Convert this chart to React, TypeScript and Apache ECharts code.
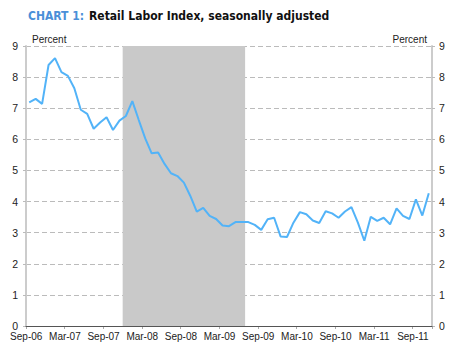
import React, { useEffect, useRef } from "react";
import * as echarts from "echarts";

const categories = [
  "Sep-06", "Oct-06", "Nov-06", "Dec-06",
  "Jan-07", "Feb-07", "Mar-07", "Apr-07", "May-07", "Jun-07", "Jul-07", "Aug-07", "Sep-07", "Oct-07", "Nov-07", "Dec-07",
  "Jan-08", "Feb-08", "Mar-08", "Apr-08", "May-08", "Jun-08", "Jul-08", "Aug-08", "Sep-08", "Oct-08", "Nov-08", "Dec-08",
  "Jan-09", "Feb-09", "Mar-09", "Apr-09", "May-09", "Jun-09", "Jul-09", "Aug-09", "Sep-09", "Oct-09", "Nov-09", "Dec-09",
  "Jan-10", "Feb-10", "Mar-10", "Apr-10", "May-10", "Jun-10", "Jul-10", "Aug-10", "Sep-10", "Oct-10", "Nov-10", "Dec-10",
  "Jan-11", "Feb-11", "Mar-11", "Apr-11", "May-11", "Jun-11", "Jul-11", "Aug-11", "Sep-11", "Oct-11", "Nov-11",
];

const retailLaborIndex = [
  7.19, 7.3, 7.14, 8.39,
  8.61, 8.16, 8.04, 7.64, 6.95, 6.82, 6.34, 6.54, 6.71, 6.3, 6.6, 6.75,
  7.23, 6.62, 6.03, 5.55, 5.58, 5.21, 4.91, 4.82, 4.61, 4.18, 3.68, 3.8,
  3.54, 3.44, 3.23, 3.21, 3.34, 3.34, 3.34, 3.25, 3.09, 3.43, 3.48, 2.88,
  2.86, 3.32, 3.66, 3.59, 3.39, 3.31, 3.69, 3.62, 3.48, 3.68, 3.82, 3.32,
  2.74, 3.51, 3.38, 3.48, 3.27, 3.78, 3.54, 3.44, 4.07, 3.55, 4.27,
];

const recessionStart = "Dec-07";
const recessionEnd = "Jun-09";

const yMin = 0;
const yMax = 9;
const yInterval = 1;

export default function App() {
  const ref = useRef<HTMLDivElement>(null);

  useEffect(() => {
    if (!ref.current) return;
    const chart = echarts.init(ref.current, undefined, { renderer: "svg" });
    const s = categories.indexOf(recessionStart);
    const e = categories.indexOf(recessionEnd) + 1; // end of the last recession month
    const font = "'Liberation Sans', Arial, sans-serif";
    const titleFont = "'Liberation Sans Narrow', 'DejaVu Sans Condensed', sans-serif";

    chart.setOption({
      animation: false,
      title: {
        left: 28,
        top: 7,
        padding: 0,
        text: "{a|CHART 1:} {b|Retail Labor Index, seasonally adjusted}",
        textStyle: {
          rich: {
            a: { color: "#4a8fd8", fontWeight: "bold", fontSize: 12, fontFamily: titleFont },
            b: { color: "#111", fontWeight: "bold", fontSize: 12, fontFamily: titleFont },
          },
        },
      },
      grid: { left: 26, right: 17, top: 46, bottom: 27, containLabel: false },
      xAxis: [
        {
          type: "category",
          data: categories,
          boundaryGap: true,
          axisLine: { show: true, lineStyle: { color: "#aaaaaa", width: 1 } },
          axisTick: { show: true, interval: 5, length: 3, lineStyle: { color: "#aaaaaa" } },
          axisLabel: {
            interval: 5,
            color: "#222",
            fontSize: 10,
            fontFamily: font,
            margin: 5,
            padding: [0, 6, 0, 0],
          },
          splitLine: { show: false },
        },
        {
          type: "category",
          data: categories,
          position: "top",
          z: 5,
          axisLine: { show: true, lineStyle: { color: "#555555", width: 1 } },
          axisTick: { show: false },
          axisLabel: { show: false },
          splitLine: { show: false },
        },
        {
          type: "value",
          min: 0,
          max: categories.length,
          show: false,
        },
      ],
      yAxis: [
        {
          type: "value",
          min: yMin,
          max: yMax,
          interval: yInterval,
          position: "left",
          name: "Percent",
          nameLocation: "end",
          nameGap: 2,
          nameTextStyle: {
            align: "left",
            color: "#222",
            fontSize: 10,
            fontFamily: font,
            padding: [0, 0, 0, 6],
          },
          axisLine: { show: true, lineStyle: { color: "#cccccc", width: 2 } },
          axisTick: { show: true, length: 3, lineStyle: { color: "#bbbbbb" } },
          axisLabel: { color: "#222", fontSize: 10.5, fontFamily: font, margin: 8 },
          splitLine: { show: true, lineStyle: { color: "#bbbbbb", type: [5, 3], width: 1 } },
        },
        {
          type: "value",
          min: yMin,
          max: yMax,
          interval: yInterval,
          position: "right",
          name: "Percent",
          nameLocation: "end",
          nameGap: 2,
          nameTextStyle: {
            align: "right",
            color: "#222",
            fontSize: 10,
            fontFamily: font,
            padding: [0, 5, 0, 0],
          },
          axisLine: { show: true, lineStyle: { color: "#cccccc", width: 2 } },
          axisTick: { show: true, length: 3, lineStyle: { color: "#bbbbbb" } },
          axisLabel: { color: "#222", fontSize: 10.5, fontFamily: font, margin: 7 },
          splitLine: { show: false },
        },
      ],
      series: [
        {
          type: "line",
          name: "Recession",
          xAxisIndex: 2,
          yAxisIndex: 0,
          data: [
            [s, yMax],
            [e, yMax],
          ],
          showSymbol: false,
          symbol: "none",
          lineStyle: { width: 0, opacity: 0 },
          areaStyle: { color: "#c9c9c9", opacity: 1 },
          silent: true,
          z: 1,
        },
        {
          type: "line",
          name: "Retail Labor Index",
          data: retailLaborIndex,
          showSymbol: false,
          symbol: "none",
          lineStyle: { color: "#52b3f8", width: 2 },
          z: 3,
        },
      ],
    });

    return () => chart.dispose();
  }, []);

  return <div ref={ref} style={{ width: 449, height: 353, position: "absolute", left: 0, top: 0 }} />;
}
